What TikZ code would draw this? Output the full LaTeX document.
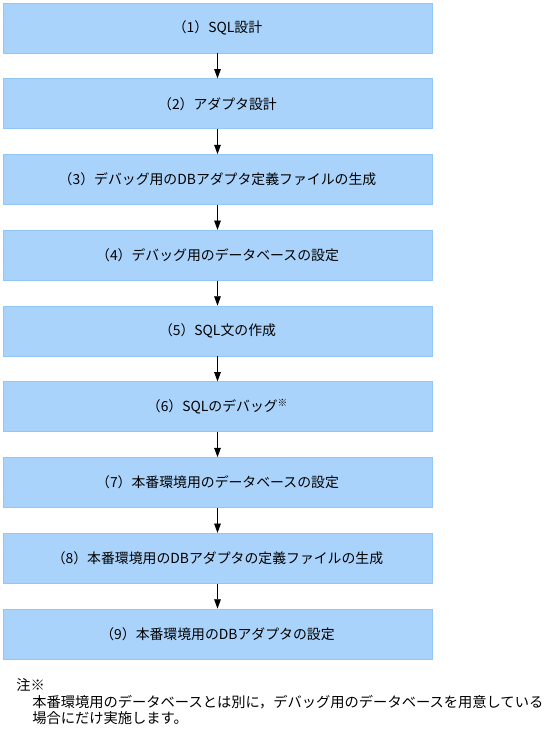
\documentclass[tikz,border=0pt]{standalone}
\usepackage{fontspec}
\setmainfont{Noto Sans CJK JP}
\usepackage{xcolor}
\usetikzlibrary{positioning, arrows.meta}
\definecolor{stepfill}{HTML}{AAD3FB}
\definecolor{stepline}{HTML}{92C6F4}

\begin{document}
\begin{tikzpicture}[
    x=0.75pt, y=-0.75pt,
    >={Triangle[length=7pt, width=5pt]},
    stepbox/.style={rectangle, draw=stepline, fill=stepfill, line width=0.6pt, minimum width=321.75pt, minimum height=37.5pt, inner sep=0pt, align=center, font=\fontsize{10.4pt}{12pt}\selectfont},
    arr/.style={->, line width=0.6pt, color=black},
    notetext/.style={anchor=west, inner sep=0pt, align=left, font=\fontsize{10.7pt}{12pt}\selectfont},
]
\useasboundingbox (0,0) rectangle (547,732);

% ---- Steps ----
\node[stepbox] (s1) at (217.5, 28.0) {（1）SQL設計};
\node[stepbox] (s2) at (217.5, 103.75) {（2）アダプタ設計};
\node[stepbox] (s3) at (217.5, 179.5) {（3）デバッグ用のDBアダプタ定義ファイルの生成};
\node[stepbox] (s4) at (217.5, 255.25) {（4）デバッグ用のデータベースの設定};
\node[stepbox] (s5) at (217.5, 331.0) {（5）SQL文の作成};
\node[stepbox] (s6) at (217.5, 406.75) {（6）SQLのデバッグ\textsuperscript{※}};
\node[stepbox] (s7) at (217.5, 482.5) {（7）本番環境用のデータベースの設定};
\node[stepbox] (s8) at (217.5, 558.25) {（8）本番環境用のDBアダプタの定義ファイルの生成};
\node[stepbox] (s9) at (217.5, 634.0) {（9）本番環境用のDBアダプタの設定};

% ---- Arrows ----
\draw[arr] (s1) -- (s2);
\draw[arr] (s2) -- (s3);
\draw[arr] (s3) -- (s4);
\draw[arr] (s4) -- (s5);
\draw[arr] (s5) -- (s6);
\draw[arr] (s6) -- (s7);
\draw[arr] (s7) -- (s8);
\draw[arr] (s8) -- (s9);

% ---- Note ----
\node[notetext] (notehead) at (16, 685) {注※};
\node[notetext, anchor=north west] (notebody) at (32, 695) {本番環境用のデータベースとは別に，デバッグ用のデータベースを用意している\\場合にだけ実施します。};

\end{tikzpicture}
\end{document}
